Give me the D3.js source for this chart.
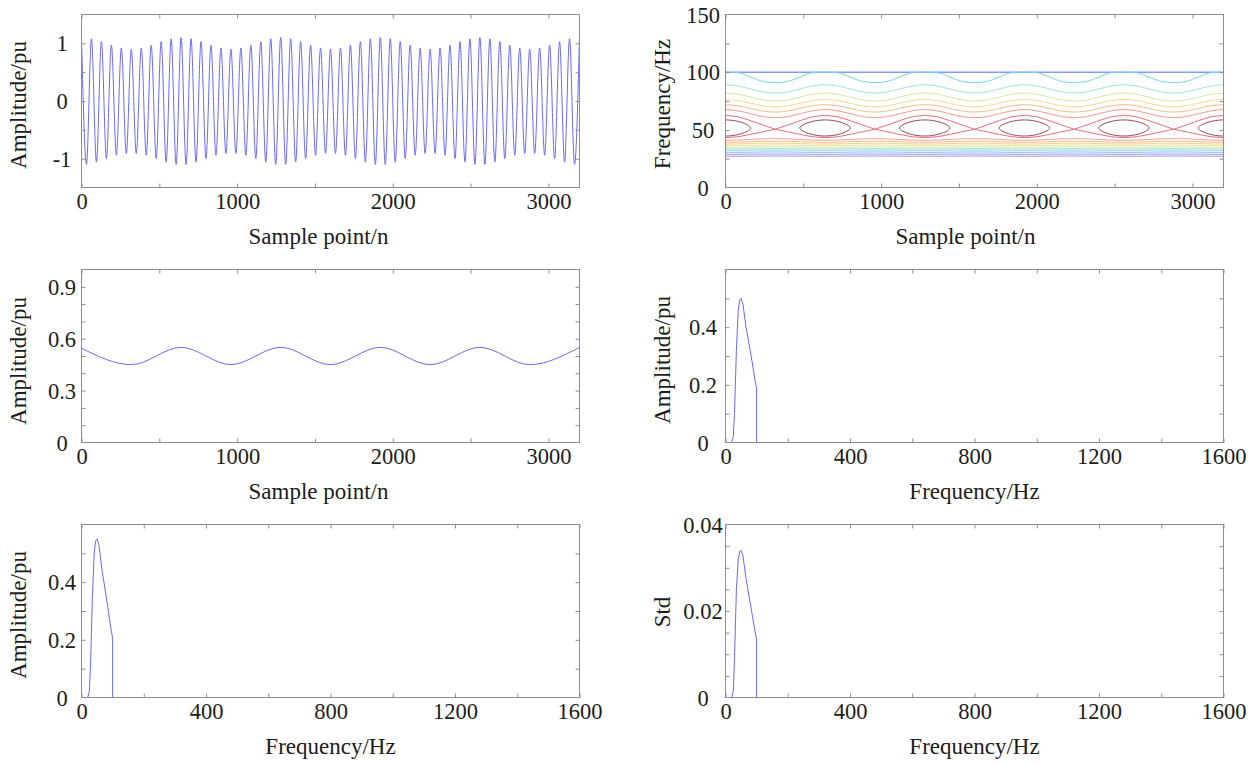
<!DOCTYPE html>
<html>
<head>
<meta charset="utf-8">
<script src="https://cdn.jsdelivr.net/npm/d3@7"></script>
<style>
  html, body { margin: 0; padding: 0; background: #ffffff; }
  svg { display: block; }
  text { font-family: "Liberation Serif", "Times New Roman", serif; fill: #1c1c1c; }
</style>
</head>
<body>
<svg id="fig" width="1251" height="764"></svg>
<script>
// ---------------- tick values ----------------
const sampleLabelTicks = [0, 1000, 2000, 3000];
const sampleMinorTicks = [0, 500, 1000, 1500, 2000, 2500, 3000];
const freqLabelTicks = [0, 400, 800, 1200, 1600];
const freqMinorTicks = [0, 200, 400, 600, 800, 1000, 1200, 1400, 1600];
const waveLabelTicks = [-1, 0, 1];
const waveMinorTicks = [-1, -0.5, 0, 0.5, 1];
const envLabelTicks = [0, 0.3, 0.6, 0.9];
const envMinorTicks = [0.1, 0.2, 0.3, 0.4, 0.5, 0.6, 0.7, 0.8, 0.9];
const stLabelTicks = [0, 50, 100, 150];
const stMinorTicks = [25, 50, 75, 100, 125];
const specLabelTicks = [0, 0.2, 0.4];
const specMinorTicks = [0.1, 0.2, 0.3, 0.4, 0.5];
const stdLabelTicks = [0, 0.02, 0.04];
const stdMinorTicks = [0.005, 0.01, 0.015, 0.02, 0.025, 0.03, 0.035];

// ---------------- signal: successive crests/troughs, one every 32 samples ----------------
const waveHalfCycle = 32;
const waveExtrema = [
  1.10, -1.10, 1.08, -1.06, 1.03, -1.00, 0.97, -0.94, 0.92, -0.91,
  0.90, -0.91, 0.92, -0.94, 0.97, -1.00, 1.03, -1.06, 1.08, -1.10,
  1.10, -1.10, 1.08, -1.06, 1.03, -1.00, 0.97, -0.94, 0.92, -0.91,
  0.90, -0.91, 0.92, -0.94, 0.97, -1.00, 1.03, -1.06, 1.08, -1.10,
  1.10, -1.10, 1.08, -1.06, 1.03, -1.00, 0.97, -0.94, 0.92, -0.91,
  0.90, -0.91, 0.92, -0.94, 0.97, -1.00, 1.03, -1.06, 1.08, -1.10,
  1.10, -1.10, 1.08, -1.06, 1.03, -1.00, 0.97, -0.94, 0.92, -0.91,
  0.90, -0.91, 0.92, -0.94, 0.97, -1.00, 1.03, -1.06, 1.08, -1.10,
  1.10, -1.10, 1.08, -1.06, 1.03, -1.00, 0.97, -0.94, 0.92, -0.91,
  0.90, -0.91, 0.92, -0.94, 0.97, -1.00, 1.03, -1.06, 1.08, -1.10,
  1.10
];

// ---------------- 50 Hz amplitude over time: extrema every 320 samples ----------------
const envStep = 320;
const envExtrema = [0.545, 0.45, 0.55, 0.45, 0.55, 0.45, 0.55, 0.45, 0.55, 0.45, 0.55];

// ---------------- S-transform contour lines over one 640-sample period ----------------
const stPeriod = 640;
const stPeriodCount = 5;
const stTimes = [0, 80, 160, 240, 320, 400, 480, 560, 640];
const stUpperLines = [
  [100, 100, 100, 100, 100, 100, 100, 100, 100],
  [100, 99.6, 95.8, 92.0, 90.9, 92.0, 95.8, 99.6, 100],
  [89.1, 88.0, 85.5, 82.9, 81.9, 82.9, 85.5, 88.0, 89.1],
  [81.9, 80.9, 78.4, 75.9, 75.0, 75.9, 78.4, 80.9, 81.9],
  [76.4, 75.4, 73.1, 70.8, 69.8, 70.8, 73.1, 75.4, 76.4],
  [71.8, 70.9, 68.6, 66.3, 65.4, 66.3, 68.6, 70.9, 71.8],
  [67.6, 66.5, 64.0, 61.5, 60.5, 61.5, 64.0, 66.5, 67.6]
];
const stSaddleLines = [
  [62.6, 61.4, 58.0, 54.2, 50.5, 54.2, 58.0, 61.4, 62.6],
  [43.2, 44.0, 46.0, 48.3, 50.5, 48.3, 46.0, 44.0, 43.2]
];
const stLowerLines = [
  [40.9, 41.1, 41.65, 42.2, 42.4, 42.2, 41.65, 41.1, 40.9],
  [39.2, 39.35, 39.7, 40.05, 40.2, 40.05, 39.7, 39.35, 39.2],
  [37.7, 37.8, 38.05, 38.3, 38.4, 38.3, 38.05, 37.8, 37.7],
  [36.3, 36.4, 36.6, 36.8, 36.9, 36.8, 36.6, 36.4, 36.3],
  [34.8, 34.87, 35.05, 35.23, 35.3, 35.23, 35.05, 34.87, 34.8],
  [33.4, 33.46, 33.6, 33.74, 33.8, 33.74, 33.6, 33.46, 33.4],
  [32.2, 32.24, 32.35, 32.46, 32.5, 32.46, 32.35, 32.24, 32.2],
  [30.5, 30.54, 30.65, 30.76, 30.8, 30.76, 30.65, 30.54, 30.5],
  [28.8, 28.83, 28.9, 28.97, 29.0, 28.97, 28.9, 28.83, 28.8],
  [27.1, 27.13, 27.2, 27.27, 27.3, 27.27, 27.2, 27.13, 27.1]
];
// closed level around each amplitude maximum (offset in samples, frequency in Hz)
const stPeakOffsets = [-163, -140, -100, -50, 0, 50, 100, 140, 163, 140, 100, 50, 0, -50, -100, -140];
const stPeakFreqs = [51.6, 54.4, 56.6, 58.1, 58.6, 58.1, 56.6, 54.4, 51.6, 48.8, 46.6, 45.1, 44.6, 45.1, 46.6, 48.8];
const stPeakCentres = [0, 640, 1280, 1920, 2560, 3200];

// ---------------- spectra: [frequency Hz, value] ----------------
const meanSpectrum = [
  [0, 0], [20, 0], [25, 0.02], [29, 0.10], [35, 0.32], [41, 0.46], [46, 0.495], [50, 0.50],
  [56, 0.48], [66, 0.40], [75, 0.345], [85, 0.283], [95, 0.215], [100, 0.185], [100, 0], [1600, 0]
];
const maxSpectrum = [
  [0, 0], [20, 0], [25, 0.02], [29, 0.11], [35, 0.35], [41, 0.505], [46, 0.545], [50, 0.55],
  [56, 0.53], [66, 0.44], [75, 0.38], [85, 0.31], [95, 0.235], [100, 0.205], [100, 0], [1600, 0]
];
const stdSpectrum = [
  [0, 0], [20, 0], [25, 0.0014], [29, 0.009], [35, 0.025], [41, 0.032], [46, 0.0338], [50, 0.034],
  [56, 0.0328], [66, 0.0275], [75, 0.0237], [85, 0.0195], [95, 0.0152], [100, 0.0134], [100, 0], [1600, 0]
];

// ---------------- colours ----------------
const traceColor = "#6a6af0";
const frameColor = "#8e8e8e";
const stUpperColors = ["#4a6ae6", "#72d4e8", "#a2e6c8", "#d2eaa4", "#f4d98c", "#f5bc88", "#f09a8c"];
const stSaddleColor = "#e2707a";
const stPeakColor = "#94485c";
const stLowerColors = ["#f2a396", "#f5bc8a", "#f6d08e", "#ece196", "#cfe8aa", "#aae3c8", "#90d6ec", "#92b6f2", "#9499f0", "#a292e0"];

// ---------------- layout ----------------
const svg = d3.select("#fig");
const cols = [{ left: 81.5, right: 579.5, labelOffset: 19.5 }, { left: 725.5, right: 1223.5, labelOffset: 22.5 }];
const rows = [{ top: 14.5, bottom: 187.5 }, { top: 269.5, bottom: 442.5 }, { top: 524.5, bottom: 697.5 }];
let clipId = 0;

function panel(o) {
  const c = cols[o.col], r = rows[o.row];
  const x = d3.scaleLinear().domain(o.xDomain).range([c.left, c.right]);
  const y = d3.scaleLinear().domain(o.yDomain).range([r.bottom, r.top]);
  const g = svg.append("g");
  const id = "plotclip" + (clipId++);
  svg.append("clipPath").attr("id", id).append("rect")
    .attr("x", c.left).attr("y", r.top).attr("width", c.right - c.left).attr("height", r.bottom - r.top);
  const plot = g.append("g").attr("clip-path", `url(#${id})`);

  const tickStyle = sel => {
    sel.select(".domain").remove();
    sel.selectAll(".tick line").attr("stroke", frameColor);
    sel.selectAll(".tick text").remove();
  };
  // inward ticks on all four sides
  g.append("g").attr("transform", `translate(0,${r.bottom})`)
    .call(d3.axisBottom(x).tickValues(o.xMinor).tickSizeInner(-4).tickSizeOuter(0)).call(tickStyle);
  g.append("g").attr("transform", `translate(0,${r.top})`)
    .call(d3.axisTop(x).tickValues(o.xMinor).tickSizeInner(-4).tickSizeOuter(0)).call(tickStyle);
  g.append("g").attr("transform", `translate(${c.left},0)`)
    .call(d3.axisLeft(y).tickValues(o.yMinor).tickSizeInner(-4).tickSizeOuter(0)).call(tickStyle);
  g.append("g").attr("transform", `translate(${c.right},0)`)
    .call(d3.axisRight(y).tickValues(o.yMinor).tickSizeInner(-4).tickSizeOuter(0)).call(tickStyle);

  // tick labels
  const xl = g.append("g").attr("transform", `translate(0,${r.bottom})`)
    .call(d3.axisBottom(x).tickValues(o.xLabels).tickSize(0).tickPadding(5.5).tickFormat(d => String(d)));
  xl.select(".domain").remove();
  xl.selectAll("text").attr("font-size", 22.5).attr("fill", "#222").attr("font-family", null);
  const yl = g.append("g").attr("transform", `translate(${c.left},0)`)
    .call(d3.axisLeft(y).tickValues(o.yLabels).tickSize(0).tickFormat(d => String(d)));
  yl.select(".domain").remove();
  yl.selectAll("text").attr("font-size", 22.5).attr("fill", "#222").attr("font-family", null)
    .attr("text-anchor", "middle").attr("x", -c.labelOffset).attr("dy", "0.34em");

  // frame
  g.append("rect").attr("x", c.left).attr("y", r.top)
    .attr("width", c.right - c.left).attr("height", r.bottom - r.top)
    .attr("fill", "none").attr("stroke", frameColor).attr("stroke-width", 1);

  // axis titles
  g.append("text").attr("x", (c.left + c.right) / 2 + (o.xTitleShift || 0)).attr("y", r.bottom + 56)
    .attr("text-anchor", "middle").attr("font-size", 23).text(o.xTitle);
  const yc = (r.top + r.bottom) / 2 + (o.yTitleShift || 0);
  g.append("text").attr("transform", `translate(${c.left - 56},${yc}) rotate(-90)`)
    .attr("text-anchor", "middle").attr("font-size", 23).text(o.yTitle);

  return { plot, x, y };
}

// ---- (1) time-domain signal ----
{
  const p = panel({ col: 0, row: 0, xDomain: [0, 3200], yDomain: [-1.5, 1.5],
    xMinor: sampleMinorTicks, xLabels: sampleLabelTicks, yMinor: waveMinorTicks, yLabels: waveLabelTicks,
    xTitle: "Sample point/n", yTitle: "Amplitude/pu", xTitleShift: -12, yTitleShift: 4 });
  const line = d3.line().x((d, i) => p.x(i * waveHalfCycle)).y(d => p.y(d)).curve(d3.curveMonotoneX);
  p.plot.append("path").attr("d", line(waveExtrema))
    .attr("fill", "none").attr("stroke", traceColor).attr("stroke-width", 1);
}

// ---- (2) time-frequency contour ----
{
  const p = panel({ col: 1, row: 0, xDomain: [0, 3200], yDomain: [0, 150],
    xMinor: sampleMinorTicks, xLabels: sampleLabelTicks, yMinor: stMinorTicks, yLabels: stLabelTicks,
    xTitle: "Sample point/n", yTitle: "Frequency/Hz", xTitleShift: -9, yTitleShift: 3 });
  const tile = vals => {
    const pts = [];
    for (let k = 0; k < stPeriodCount; k++) {
      stTimes.forEach((t, i) => {
        if (k > 0 && i === 0) return;
        pts.push([k * stPeriod + t, vals[i]]);
      });
    }
    return pts;
  };
  const smooth = d3.line().x(d => p.x(d[0])).y(d => p.y(d[1])).curve(d3.curveMonotoneX);
  const straight = d3.line().x(d => p.x(d[0])).y(d => p.y(d[1]));
  const draw = (d, color, gen) => p.plot.append("path").attr("d", gen(d))
    .attr("fill", "none").attr("stroke", color).attr("stroke-width", 1);

  stLowerLines.forEach((v, i) => draw(tile(v), stLowerColors[i], smooth));
  stUpperLines.forEach((v, i) => draw(tile(v), stUpperColors[i], smooth));
  stSaddleLines.forEach(v => draw(tile(v), stSaddleColor, straight));
  const ring = d3.line().x(d => p.x(d[0])).y(d => p.y(d[1])).curve(d3.curveCardinalClosed);
  stPeakCentres.forEach(c => {
    const pts = stPeakOffsets.map((dt, i) => [c + dt, stPeakFreqs[i]]);
    p.plot.append("path").attr("d", ring(pts))
      .attr("fill", "none").attr("stroke", stPeakColor).attr("stroke-width", 1);
  });
}

// ---- (3) 50 Hz amplitude over time ----
{
  const p = panel({ col: 0, row: 1, xDomain: [0, 3200], yDomain: [0, 1],
    xMinor: sampleMinorTicks, xLabels: sampleLabelTicks, yMinor: envMinorTicks, yLabels: envLabelTicks,
    xTitle: "Sample point/n", yTitle: "Amplitude/pu", xTitleShift: -12, yTitleShift: 5 });
  const line = d3.line().x((d, i) => p.x(i * envStep)).y(d => p.y(d)).curve(d3.curveMonotoneX);
  p.plot.append("path").attr("d", line(envExtrema))
    .attr("fill", "none").attr("stroke", traceColor).attr("stroke-width", 1);
}

// ---- spectra ----
function spectrumPanel(col, row, data, yDomain, yMinor, yLabels, yTitle, shift) {
  const p = panel({ col, row, xDomain: [0, 1600], yDomain,
    xMinor: freqMinorTicks, xLabels: freqLabelTicks, yMinor, yLabels,
    xTitle: "Frequency/Hz", yTitle, yTitleShift: shift });
  const line = d3.line().x(d => p.x(d[0])).y(d => p.y(d[1]));
  p.plot.append("path").attr("d", line(data))
    .attr("fill", "none").attr("stroke", traceColor).attr("stroke-width", 1);
}
spectrumPanel(1, 1, meanSpectrum, [0, 0.6], specMinorTicks, specLabelTicks, "Amplitude/pu", 4);
spectrumPanel(0, 2, maxSpectrum, [0, 0.6], specMinorTicks, specLabelTicks, "Amplitude/pu", 4);
spectrumPanel(1, 2, stdSpectrum, [0, 0.04], stdMinorTicks, stdLabelTicks, "Std", 1);
</script>
</body>
</html>
